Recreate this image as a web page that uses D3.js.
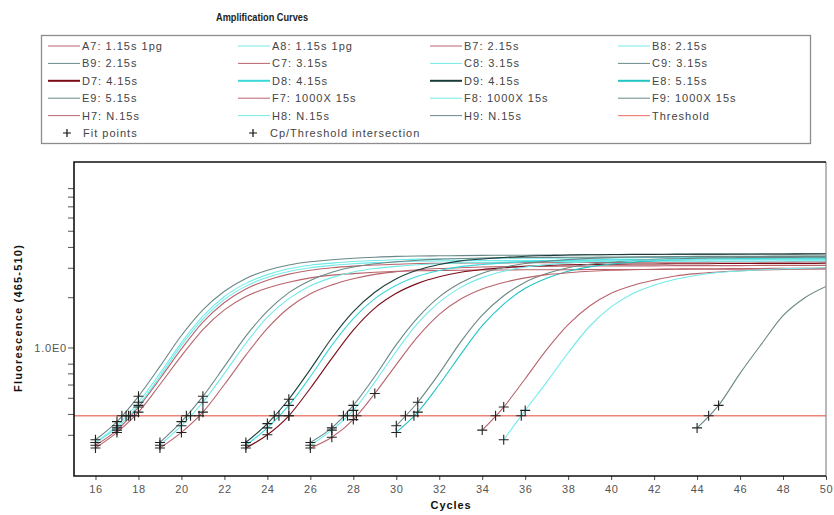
<!DOCTYPE html>
<html>
<head>
<meta charset="utf-8">
<script src="https://cdn.jsdelivr.net/npm/d3@7"></script>
<style>
  html, body { margin: 0; padding: 0; background: #fff; }
  svg { display: block; }
</style>
</head>
<body>
<svg id="chart" width="834" height="515"></svg>
<script>
// ---- Axis ranges and ticks ----
const cycleDomain = [15, 50];
const fluorDomain = [0.17, 12.9];
const xTickValues = [16, 18, 20, 22, 24, 26, 28, 30, 32, 34, 36, 38, 40, 42, 44, 46, 48, 50];
const yMinorTicks = [0.3, 0.4, 0.5, 0.6, 0.7, 0.8, 2, 3, 4, 5, 6, 7, 8, 9];
const yMajorTicks = [1];
const yMajorLabels = ["1.0E0"];
const threshold = 0.39;
const fitWindowMax = 0.56;   // readings below this level are the fit points

// ---- Samples: label, first cycle, fluorescence per cycle ----
const sampleLabels = [
  "A7: 1.15s 1pg", "A8: 1.15s 1pg", "B7: 2.15s", "B8: 2.15s",
  "B9: 2.15s", "C7: 3.15s", "C8: 3.15s", "C9: 3.15s",
  "D7: 4.15s", "D8: 4.15s", "D9: 4.15s", "E8: 5.15s",
  "E9: 5.15s", "F7: 1000X 15s", "F8: 1000X 15s", "F9: 1000X 15s",
  "H7: N.15s", "H8: N.15s", "H9: N.15s"
];
const firstCycle = [16, 16, 16, 16, 16, 19, 19, 19, 23, 23, 23, 30, 30, 26, 26, 26, 34, 35, 44];

const valA7 = [.26,.32,.44,.65,.98,1.42,1.86,2.24,2.53,2.75,2.90,3.00,3.07,3.12,3.15,3.18,3.19,3.20,3.21,3.21,3.22,3.22,3.22,3.23,3.23,3.23,3.24,3.24,3.24,3.25,3.25,3.25,3.25,3.26,3.26];
const valA8 = [.27,.34,.47,.70,1.07,1.54,2.02,2.42,2.73,2.96,3.11,3.20,3.27,3.32,3.35,3.38,3.39,3.40,3.41,3.42,3.42,3.43,3.43,3.44,3.44,3.44,3.45,3.45,3.45,3.46,3.46,3.46,3.47,3.47,3.47];
const valB7 = [.25,.31,.41,.60,.89,1.28,1.68,2.02,2.27,2.46,2.61,2.71,2.77,2.82,2.86,2.88,2.89,2.90,2.91,2.91,2.92,2.92,2.92,2.93,2.93,2.93,2.93,2.94,2.94,2.94,2.94,2.95,2.95,2.95,2.95];
const valB8 = [.27,.33,.45,.67,1.03,1.48,1.94,2.33,2.63,2.85,3.00,3.10,3.17,3.22,3.25,3.28,3.30,3.31,3.31,3.32,3.32,3.32,3.33,3.33,3.33,3.34,3.34,3.34,3.34,3.35,3.35,3.35,3.35,3.36,3.36];
const valB9 = [.28,.36,.51,.77,1.18,1.68,2.17,2.59,2.90,3.12,3.26,3.35,3.42,3.47,3.51,3.53,3.54,3.55,3.56,3.57,3.57,3.58,3.58,3.59,3.59,3.60,3.60,3.60,3.61,3.61,3.61,3.62,3.62,3.62,3.63];
const valC7 = [.25,.31,.41,.60,.90,1.30,1.73,2.10,2.37,2.58,2.74,2.84,2.92,2.97,3.00,3.03,3.05,3.06,3.06,3.07,3.07,3.08,3.08,3.08,3.09,3.09,3.09,3.09,3.10,3.10,3.10,3.10];
const valC8 = [.26,.34,.47,.70,1.06,1.52,1.96,2.34,2.62,2.83,2.97,3.06,3.13,3.17,3.21,3.23,3.25,3.26,3.26,3.27,3.27,3.27,3.28,3.28,3.28,3.29,3.29,3.29,3.29,3.30,3.30,3.30];
const valC9 = [.27,.36,.51,.77,1.17,1.65,2.13,2.52,2.82,3.03,3.17,3.26,3.33,3.38,3.41,3.43,3.45,3.46,3.46,3.47,3.47,3.48,3.48,3.48,3.49,3.49,3.49,3.50,3.50,3.50,3.51,3.51];
const valD7 = [.25,.30,.39,.57,.86,1.27,1.72,2.11,2.42,2.65,2.82,2.93,3.00,3.06,3.10,3.13,3.14,3.15,3.16,3.16,3.17,3.17,3.18,3.18,3.19,3.19,3.19,3.20];
const valD8 = [.26,.33,.45,.67,1.03,1.49,1.96,2.36,2.67,2.89,3.05,3.14,3.21,3.27,3.30,3.33,3.34,3.35,3.36,3.36,3.37,3.37,3.38,3.38,3.39,3.39,3.40,3.40];
const valD9 = [.27,.35,.49,.74,1.14,1.64,2.14,2.58,2.91,3.14,3.30,3.39,3.46,3.52,3.55,3.58,3.59,3.60,3.61,3.61,3.62,3.62,3.62,3.63,3.63,3.63,3.64,3.64];
const valE8 = [.31,.41,.60,.91,1.35,1.82,2.26,2.60,2.86,3.04,3.16,3.24,3.30,3.34,3.37,3.39,3.40,3.41,3.42,3.42,3.43];
const valE9 = [.34,.47,.70,1.08,1.56,2.04,2.46,2.77,3.00,3.15,3.24,3.32,3.37,3.40,3.43,3.44,3.45,3.46,3.46,3.47,3.47];
const valF7 = [.25,.29,.37,.53,.79,1.16,1.58,1.95,2.24,2.45,2.61,2.73,2.80,2.86,2.90,2.92,2.94,2.95,2.96,2.96,2.97,2.97,2.98,2.98,2.99];
const valF8 = [.26,.32,.42,.62,.95,1.40,1.87,2.29,2.62,2.86,3.03,3.13,3.21,3.26,3.30,3.33,3.34,3.35,3.36,3.37,3.37,3.38,3.38,3.39,3.39];
const valF9 = [.27,.33,.45,.67,1.04,1.51,2.01,2.44,2.78,3.02,3.18,3.28,3.36,3.41,3.45,3.48,3.49,3.50,3.51,3.51,3.52,3.52,3.53,3.53,3.53];
const valH7 = [.32,.44,.65,.97,1.37,1.77,2.11,2.35,2.53,2.68,2.77,2.83,2.88,2.91,2.93,2.95,2.96];
const valH8 = [.28,.42,.62,.93,1.34,1.75,2.10,2.36,2.56,2.71,2.81,2.87,2.92,2.96,2.98,3.00];
const valH9 = [.33,.45,.70,1.05,1.55,1.98,2.32];

const sampleValues = [valA7, valA8, valB7, valB8, valB9, valC7, valC8, valC9,
  valD7, valD8, valD9, valE8, valE9, valF7, valF8, valF9, valH7, valH8, valH9];

// ---- Line styles per sample ----
const ROSY = "#b8646c", CYAN = "#72eaea", GREY = "#6a8886";
const sampleColors = [ROSY, CYAN, ROSY, CYAN, GREY, ROSY, CYAN, GREY,
  "#7a0a18", "#3ad8da", "#1c3c3a", "#22c4c4", GREY, ROSY, CYAN, GREY, ROSY, CYAN, GREY];
const legendWidths = [1, 1, 1, 1, 1, 1, 1, 1, 2, 2, 2, 2, 1, 1, 1, 1, 1, 1, 1];
const thresholdColor = "#ec8478";

const FONT = "'Liberation Sans', Arial, sans-serif";

const svg = d3.select("#chart");
const plot = { left: 74, right: 826, top: 162, bottom: 476 };

const x = d3.scaleLinear().domain(cycleDomain).range([plot.left, plot.right]);
const y = d3.scaleLog().domain(fluorDomain).range([plot.bottom, plot.top]);

// Build point records for every sample
const samples = sampleLabels.map((label, i) => {
  const pts = sampleValues[i].map((v, k) => ({ c: firstCycle[i] + k, v }));
  // crossing point with the threshold, interpolated on the log scale
  let cp = null;
  for (let k = 1; k < pts.length; k++) {
    const a = pts[k - 1], b = pts[k];
    if (a.v < threshold && b.v >= threshold) {
      const f = (Math.log(threshold) - Math.log(a.v)) / (Math.log(b.v) - Math.log(a.v));
      cp = a.c + f * (b.c - a.c);
      break;
    }
  }
  return { label, pts, cp, color: sampleColors[i], lw: legendWidths[i] };
});

// ---- Title (condensed bold) ----
svg.append("text")
  .attr("x", 216).attr("y", 21)
  .attr("textLength", 92).attr("lengthAdjust", "spacingAndGlyphs")
  .style("font-family", FONT).style("font-weight", "bold").style("font-size", "11.5px")
  .attr("fill", "#222")
  .text("Amplification Curves");

// ---- Legend ----
const legend = svg.append("g");
legend.append("rect")
  .attr("x", 41.5).attr("y", 35.5).attr("width", 769).attr("height", 108)
  .attr("fill", "#fff").attr("stroke", "#8c8c8c").attr("stroke-width", 1.3);

const colX = [48, 238, 430, 618];
const rowY = [46, 63.4, 80.8, 98.2, 115.6];
const legendItems = samples.map(s => ({ label: s.label, color: s.color, lw: s.lw }))
  .concat([{ label: "Threshold", color: thresholdColor, lw: 1.2 }]);

legendItems.forEach((it, i) => {
  const cx = colX[i % 4], cy = rowY[Math.floor(i / 4)];
  legend.append("line")
    .attr("x1", cx).attr("x2", cx + 32).attr("y1", cy).attr("y2", cy)
    .attr("stroke", it.color).attr("stroke-width", it.lw);
  legend.append("text")
    .attr("x", cx + 34).attr("y", cy + 4)
    .style("font-family", FONT).style("font-size", "11px").style("letter-spacing", "1px")
    .attr("fill", "#444").text(it.label);
});

const plusPath = s => `M${-s},0H${s}M0,${-s}V${s}`;
[[67, "Fit points"], [253, "Cp/Threshold intersection"]].forEach(([px, label], i) => {
  legend.append("path").attr("transform", `translate(${px},133)`)
    .attr("d", plusPath(4)).attr("stroke", "#111").attr("stroke-width", 1.2).attr("fill", "none");
  legend.append("text")
    .attr("x", px + (i === 0 ? 16 : 17)).attr("y", 137)
    .style("font-family", FONT).style("font-size", "11px").style("letter-spacing", "1px")
    .attr("fill", "#444").text(label);
});

// ---- Plot frame ----
svg.append("clipPath").attr("id", "plotClip").append("rect")
  .attr("x", plot.left).attr("y", plot.top)
  .attr("width", plot.right - plot.left).attr("height", plot.bottom - plot.top);

// ---- Axes ----
const xAxis = d3.axisBottom(x).tickValues(xTickValues).tickSize(4).tickFormat(d3.format("d"));
const gx = svg.append("g").attr("transform", `translate(0,${plot.bottom})`).call(xAxis);
gx.select(".domain").remove();
gx.selectAll(".tick line").attr("stroke", "#444");
gx.selectAll(".tick text")
  .attr("y", 9)
  .style("font-family", FONT).style("font-size", "11px").style("letter-spacing", "0.6px")
  .attr("fill", "#555");

const yAxis = d3.axisLeft(y).tickValues(yMinorTicks.concat(yMajorTicks)).tickSize(6)
  .tickFormat(d => { const i = yMajorTicks.indexOf(d); return i >= 0 ? yMajorLabels[i] : ""; });
const gy = svg.append("g").attr("transform", `translate(${plot.left},0)`).call(yAxis);
gy.select(".domain").remove();
gy.selectAll(".tick line").attr("stroke", "#555");
gy.selectAll(".tick text")
  .attr("x", -7)
  .style("font-family", FONT).style("font-size", "11px").style("letter-spacing", "0.8px")
  .attr("fill", "#555");

// ---- Curves ----
const line = d3.line().x(d => x(d.c)).y(d => y(d.v)).curve(d3.curveMonotoneX);
const curves = svg.append("g").attr("clip-path", "url(#plotClip)");

// threshold level
curves.append("line")
  .attr("x1", plot.left).attr("x2", plot.right)
  .attr("y1", y(threshold)).attr("y2", y(threshold))
  .attr("stroke", thresholdColor).attr("stroke-width", 1.6);

curves.selectAll("path.curve").data(samples).join("path")
  .attr("class", "curve")
  .attr("d", d => line(d.pts))
  .attr("fill", "none")
  .attr("stroke", d => d.color)
  .attr("stroke-width", 1.1);

// fit points
const fitPts = samples.flatMap(s => s.pts.filter(p => p.v < fitWindowMax));
curves.selectAll("path.fit").data(fitPts).join("path")
  .attr("class", "fit")
  .attr("transform", d => `translate(${x(d.c)},${y(d.v)})`)
  .attr("d", plusPath(5))
  .attr("stroke", "#222").attr("stroke-width", 1.1).attr("fill", "none");

// Cp / threshold intersections
const cpPts = samples.filter(s => s.cp !== null);
curves.selectAll("path.cp").data(cpPts).join("path")
  .attr("class", "cp")
  .attr("transform", d => `translate(${x(d.cp)},${y(threshold)})`)
  .attr("d", plusPath(5))
  .attr("stroke", "#222").attr("stroke-width", 1.1).attr("fill", "none");

// frame on top of the curves
svg.append("line").attr("x1", plot.right).attr("x2", plot.right)
  .attr("y1", plot.top).attr("y2", plot.bottom).attr("stroke", "#8a8a8a").attr("stroke-width", 1.2);
svg.append("path")
  .attr("d", `M${plot.right},${plot.top}H${plot.left}V${plot.bottom}H${plot.right}`)
  .attr("fill", "none").attr("stroke", "#111").attr("stroke-width", 1.6);

// ---- Axis titles ----
svg.append("text")
  .attr("x", 451).attr("y", 509).attr("text-anchor", "middle")
  .style("font-family", FONT).style("font-weight", "bold").style("font-size", "11px")
  .style("letter-spacing", "0.9px").attr("fill", "#111")
  .text("Cycles");

svg.append("text")
  .attr("transform", "translate(22,318) rotate(-90)")
  .attr("text-anchor", "middle")
  .style("font-family", FONT).style("font-weight", "bold").style("font-size", "11px")
  .style("letter-spacing", "1.2px").attr("fill", "#111")
  .text("Fluorescence (465-510)");
</script>
</body>
</html>
